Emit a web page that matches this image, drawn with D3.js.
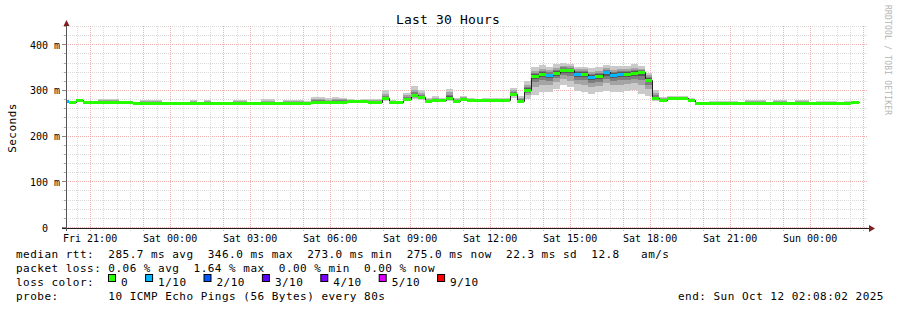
<!DOCTYPE html>
<html>
<head>
<meta charset="utf-8">
<script src="https://cdn.jsdelivr.net/npm/d3@7"></script>
<style>
  body { margin: 0; background: #fff; }
  svg text { font-family: "DejaVu Sans Mono", monospace; white-space: pre; }
</style>
</head>
<body>
<svg id="chart" width="897" height="310"></svg>
<script>
// --- data ---
const startTime = new Date(2025, 9, 10, 20, 8, 2);
const endTime = new Date(2025, 9, 12, 2, 8, 2);
const firstStep = new Date(2025, 9, 10, 19, 57, 0);
const stepMinutes = 16;

// median rtt per 16 min step (ms)
const median = [
  277, 276, 280, 276, 276, 276, 276, 276, 276, 276,
  273, 273, 273, 273, 273, 273, 273, 273, 273, 273, 273, 273,
  273, 273, 273, 273, 273, 273, 273, 273, 273, 273, 273, 273,
  274, 276, 276, 276, 276, 276, 277, 277, 277, 276, 276,
  284, 276, 275, 282, 291, 286, 279, 281, 281, 285, 279, 283,
  280, 280, 280, 280, 280, 280,
  294, 277, 302, 333, 337, 335, 340, 346, 345, 338, 338, 331, 333, 341, 336, 338, 338, 340, 341, 325,
  284, 281, 284, 284, 284, 281,
  273, 273, 273, 273, 273, 273, 273, 273, 273, 273, 273,
  273, 273, 273, 273, 273, 273, 273, 273, 273, 273, 273,
  275
];
// slowest ping per step (top of smoke)
const pingHigh = [
  280, 279, 283, 279, 279, 283, 283, 283, 279, 279,
  276, 281, 281, 281, 276, 276, 276, 276, 280, 276, 280, 276,
  276, 276, 281, 281, 276, 276, 283, 283, 276, 281, 281, 281,
  277, 286, 286, 284, 286, 285, 282, 281, 282, 283, 283,
  301, 280, 279, 296, 310, 303, 284, 288, 285, 305, 284, 290,
  284, 283, 284, 285, 284, 284,
  307, 290, 321, 352, 356, 352, 358, 362, 360, 353, 353, 350, 352, 356, 354, 355, 355, 358, 354, 340,
  303, 286, 289, 289, 289, 284,
  276, 276, 279, 279, 279, 279, 276, 280, 280, 280, 276,
  280, 280, 276, 281, 281, 276, 279, 279, 279, 276, 279,
  277
];
// fastest ping per step (bottom of smoke)
const pingLow = [
  276, 275, 278, 275, 275, 275, 275, 275, 275, 275,
  272, 272, 272, 272, 272, 272, 272, 272, 272, 272, 272, 272,
  272, 272, 272, 272, 272, 272, 272, 272, 272, 272, 272, 272,
  273, 275, 275, 275, 275, 275, 276, 276, 276, 275, 275,
  277, 275, 274, 278, 282, 280, 277, 279, 279, 279, 277, 279,
  279, 279, 279, 279, 279, 279,
  285, 276, 283, 292, 298, 297, 305, 312, 308, 300, 298, 293, 297, 300, 297, 298, 300, 302, 294, 289,
  278, 279, 282, 282, 282, 279,
  272, 272, 272, 272, 272, 272, 272, 272, 272, 272, 272,
  272, 272, 272, 272, 272, 272, 272, 272, 272, 272, 272,
  274
];
// steps that lost packets, and how much (%)
const lossSteps = [0, 68, 72, 74, 76, 77, 78];
const lossValues = [0.83, 0.83, 1.64, 0.83, 0.83, 0.83, 0.83];

const lossColors = ["#26ff00", "#00b8ff", "#0059ff", "#5e00ff", "#7e00ff", "#dd00ff", "#ff0000"];
const lossLabels = ["0", "1/10", "2/10", "3/10", "4/10", "5/10", "9/10"];
const lossLimits = [0, 10, 20, 30, 40, 50, 100];
const smokeColors = ["#cacaca", "#a4a4a4", "#7e7e7e", "#585858", "#323232"];
const smokeDepth = [1, 0.6, 0.35, 0.18, 0.06];

const yTicks = [0, 100, 200, 300, 400];
const yTickLabels = ["0", "100 m", "200 m", "300 m", "400 m"];

const legendRows = [
  "median rtt:  285.7 ms avg  346.0 ms max  273.0 ms min  275.0 ms now  22.3 ms sd  12.8   am/s",
  "packet loss: 0.06 % avg  1.64 % max  0.00 % min  0.00 % now",
  "loss color:",
  "probe:       10 ICMP Echo Pings (56 Bytes) every 80s"
];

// --- scales ---
const svg = d3.select("#chart");
const x = d3.scaleTime().domain([startTime, endTime]).range([67, 867]);
const y = d3.scaleLinear().domain([0, 440]).range([228, 27]);
const px = v => Math.round(v) + 0.5;

const stepTime = i => d3.timeMinute.offset(firstStep, i * stepMinutes);
const stepX = i => Math.max(67, Math.round(x(stepTime(i))));

// --- grid ---
const grid = svg.append("g");
d3.range(0, 441, 20).forEach(v => {
  grid.append("line")
    .attr("x1", 62).attr("x2", 868)
    .attr("y1", px(y(v)) - 1).attr("y2", px(y(v)) - 1)
    .attr("stroke", v % 100 === 0 ? "#f0b0b0" : "#dadada")
    .attr("stroke-dasharray", "1,1");
});
d3.timeMinute.every(30).range(startTime, endTime).forEach(t => {
  const major = t.getMinutes() === 0 && t.getHours() % 3 !== 1;
  grid.append("line")
    .attr("x1", px(x(t))).attr("x2", px(x(t)))
    .attr("y1", 26).attr("y2", 231)
    .attr("stroke", major ? "#f0b0b0" : "#dadada")
    .attr("stroke-dasharray", "1,1");
});

// --- smoke ---
const idx = d3.range(median.length + 1);
const capped = i => Math.min(i, median.length - 1);
smokeDepth.forEach((f, b) => {
  const area = d3.area()
    .curve(d3.curveStepAfter)
    .x(i => stepX(i))
    .y0(i => y(median[capped(i)] - f * (median[capped(i)] - pingLow[capped(i)])))
    .y1(i => y(median[capped(i)] + f * (pingHigh[capped(i)] - median[capped(i)])));
  svg.append("path")
    .attr("d", area(idx))
    .attr("fill", smokeColors[b])
    .attr("shape-rendering", "crispEdges");
});

// --- median line ---
const medianLine = d3.line()
  .curve(d3.curveStepAfter)
  .x(i => stepX(i) + 0.5)
  .y(i => px(y(median[capped(i)])));
svg.append("path")
  .attr("d", medianLine(idx))
  .attr("fill", "none")
  .attr("stroke", "#202020")
  .attr("stroke-width", 1);

// --- loss colored band ---
function lossColor(i) {
  const k = lossSteps.indexOf(i);
  const loss = k < 0 ? 0 : lossValues[k];
  if (loss === 0) return lossColors[0];
  const c = lossLimits.findIndex((lim, j) => j > 0 && loss <= lim);
  return lossColors[c];
}
svg.append("g").selectAll("rect")
  .data(median)
  .join("rect")
  .attr("x", (d, i) => stepX(i))
  .attr("width", (d, i) => stepX(i + 1) - stepX(i))
  .attr("y", d => Math.round(y(d)) - 1)
  .attr("height", 3)
  .attr("fill", (d, i) => lossColor(i))
  .attr("shape-rendering", "crispEdges");

// --- axes ---
const axis = svg.append("g");
yTicks.forEach((v, i) => {
  axis.append("line")
    .attr("x1", 62).attr("x2", 67)
    .attr("y1", px(y(v)) - 1).attr("y2", px(y(v)) - 1)
    .attr("stroke", "#888");
  axis.append("text")
    .attr("x", v === 0 ? 48 : 60)
    .attr("y", y(v) + 3.5)
    .attr("text-anchor", "end")
    .attr("font-size", 10)
    .text(yTickLabels[i]);
});
d3.range(20, 441, 20).filter(v => v % 100 !== 0).forEach(v => {
  axis.append("line")
    .attr("x1", 64).attr("x2", 67)
    .attr("y1", px(y(v)) - 1).attr("y2", px(y(v)) - 1)
    .attr("stroke", "#aaa");
});

axis.append("line")
  .attr("x1", 62).attr("x2", 869)
  .attr("y1", 228.5).attr("y2", 228.5)
  .attr("stroke", "#1f1f1f");
axis.append("line")
  .attr("x1", 66.5).attr("x2", 66.5)
  .attr("y1", 231).attr("y2", 24)
  .attr("stroke", "#555");
axis.append("path").attr("d", "M869,225L875,228.5L869,232Z").attr("fill", "#7f1f1f");
axis.append("path").attr("d", "M63.5,26L66.5,20L69.5,26Z").attr("fill", "#7f1f1f");

const fmt = d3.timeFormat("%a %H:%M");
d3.timeHour.every(3).range(startTime, endTime).forEach(t => {
  axis.append("text")
    .attr("x", x(t))
    .attr("y", 242)
    .attr("text-anchor", "middle")
    .attr("font-size", 10)
    .text(fmt(t));
});

// --- titles ---
svg.append("text")
  .attr("x", 448).attr("y", 24)
  .attr("text-anchor", "middle")
  .attr("font-size", 13)
  .attr("letter-spacing", 0.17)
  .text("Last 30 Hours");

svg.append("text")
  .attr("transform", "translate(15.5,128) rotate(-90)")
  .attr("text-anchor", "middle")
  .attr("font-size", 11)
  .attr("letter-spacing", 0.48)
  .text("Seconds");

svg.append("text")
  .attr("transform", "translate(884.5,5) rotate(90)")
  .attr("font-size", 8)
  .attr("letter-spacing", 0.2)
  .attr("fill", "#b4b4b4")
  .text("RRDTOOL / TOBI OETIKER");

// --- legend ---
const rowY = [258, 272, 286, 300];
legendRows.forEach((row, r) => {
  svg.append("text")
    .attr("x", 16).attr("y", rowY[r])
    .attr("font-size", 11)
    .attr("letter-spacing", 0.48)
    .text(row);
});

let bx = 108.5;
lossColors.forEach((c, i) => {
  svg.append("rect")
    .attr("x", bx).attr("y", 274.5)
    .attr("width", 7).attr("height", 7)
    .attr("fill", c)
    .attr("stroke", "#000");
  svg.append("text")
    .attr("x", bx + 12.5).attr("y", rowY[2])
    .attr("font-size", 11)
    .attr("letter-spacing", 0.48)
    .text(lossLabels[i]);
  bx += 12.5 + lossLabels[i].length * 7.1 + 17.5;
});

svg.append("text")
  .attr("x", 678).attr("y", rowY[3])
  .attr("font-size", 11)
  .attr("letter-spacing", 0.48)
  .text("end: Sun Oct 12 02:08:02 2025");
</script>
</body>
</html>
